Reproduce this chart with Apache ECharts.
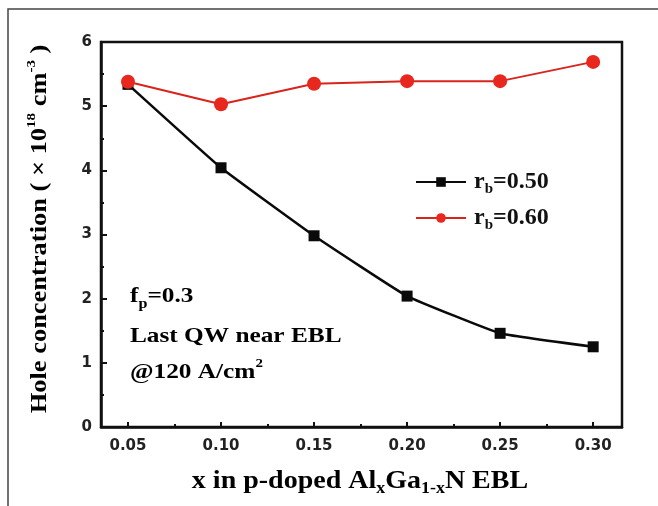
<!DOCTYPE html>
<html>
<head>
<meta charset="utf-8">
<script src="https://cdn.jsdelivr.net/npm/echarts@6/dist/echarts.min.js"></script>
<style>
  html, body { margin: 0; padding: 0; background: #fff; }
  #chart { width: 658px; height: 506px; }
</style>
</head>
<body>
<div id="chart"></div>
<script>
// values
var xValues = [0.05, 0.10, 0.15, 0.20, 0.25, 0.30];
var holeRb050 = [5.34, 4.04, 2.98, 2.04, 1.46, 1.25];
var holeRb060 = [5.38, 5.03, 5.35, 5.39, 5.39, 5.69];
var seriesNames = ['rb=0.50', 'rb=0.60'];
var xMinorTicks = [0.075, 0.125, 0.175, 0.225, 0.275];
var yMinorTicks = [0.5, 1.5, 2.5, 3.5, 4.5, 5.5];

var serif = '"Liberation Serif", "Times New Roman", serif';
var sans = '"DejaVu Sans", Verdana, sans-serif';

function pairs(ys) {
    return xValues.map(function (x, i) { return [x, ys[i]]; });
}

// rich text styles for the sub / superscripts
function richSet(size) {
    return {
        m: { fontFamily: serif, fontWeight: 'bold', fontSize: size, lineHeight: 30, color: '#111' },
        sub: { fontFamily: serif, fontWeight: 'bold', fontSize: Math.round(size * 0.62), verticalAlign: 'bottom', lineHeight: 30, color: '#111' },
        sup: { fontFamily: serif, fontWeight: 'bold', fontSize: Math.round(size * 0.58), verticalAlign: 'top', lineHeight: 30, color: '#111' }
    };
}

var chart = echarts.init(document.getElementById('chart'));

var option = {
    backgroundColor: '#ffffff',
    animation: false,
    grid: {
        left: 101, top: 42, right: 36, bottom: 79,
        show: true,
        borderColor: '#111',
        borderWidth: 2.5,
        backgroundColor: 'transparent'
    },
    xAxis: [{
        type: 'value',
        min: 0.0355,
        max: 0.3155,
        axisLine: { lineStyle: { color: '#111', width: 2.5 } },
        axisTick: { inside: true, length: 5, lineStyle: { color: '#111', width: 2 }, customValues: xValues },
        axisLabel: {
            customValues: xValues,
            formatter: function (v) { return v.toFixed(2); },
            fontFamily: sans, fontWeight: 'bold', fontSize: 15, color: '#222', margin: 12
        },
        splitLine: { show: false }
    }, {
        type: 'value',
        position: 'bottom',
        min: 0.0355,
        max: 0.3155,
        axisLine: { show: false },
        axisTick: { inside: true, length: 3, lineStyle: { color: '#111', width: 2 }, customValues: xMinorTicks },
        axisLabel: { show: false },
        splitLine: { show: false }
    }],
    yAxis: [{
        type: 'value',
        min: 0,
        max: 6,
        interval: 1,
        axisLine: { show: true, lineStyle: { color: '#111', width: 2.5 } },
        axisTick: { show: true, inside: true, length: 6, lineStyle: { color: '#111', width: 2 } },
        axisLabel: { fontFamily: sans, fontWeight: 'bold', fontSize: 15, color: '#222', margin: 9 },
        splitLine: { show: false }
    }, {
        type: 'value',
        position: 'left',
        min: 0,
        max: 6,
        axisLine: { show: false },
        axisTick: { show: true, inside: true, length: 3, lineStyle: { color: '#111', width: 2 }, customValues: yMinorTicks },
        axisLabel: { show: false },
        splitLine: { show: false }
    }],
    legend: {
        orient: 'vertical',
        left: 410,
        top: 165,
        itemWidth: 50,
        itemHeight: 12,
        itemGap: 9,
        data: seriesNames,
        formatter: function (name) {
            return '{m|r}{sub|b}{m|' + name.slice(2) + '}';
        },
        textStyle: { padding: [0, 0, 0, 3], rich: richSet(24) }
    },
    series: [{
        name: seriesNames[0],
        type: 'line',
        data: pairs(holeRb050),
        smooth: 0.1,
        symbol: 'rect',
        symbolSize: 11,
        itemStyle: { color: '#0a0a0a' },
        lineStyle: { color: '#0a0a0a', width: 2.5 }
    }, {
        name: seriesNames[1],
        type: 'line',
        data: pairs(holeRb060),
        symbol: 'circle',
        symbolSize: 14,
        itemStyle: { color: '#e8281e' },
        lineStyle: { color: '#d8241b', width: 2 }
    }],
    graphic: [
        {
            type: 'rect',
            shape: { x: 8, y: 9, width: 700, height: 600 },
            style: { fill: 'none', stroke: '#444', lineWidth: 1.5 },
            silent: true
        },
        {
            type: 'text', x: 130, y: 296, scaleX: 1.15,
            style: {
                text: '{m|f}{sub|p}{m|=0.3}', rich: richSet(22),
                textAlign: 'left', align: 'left', textVerticalAlign: 'middle', verticalAlign: 'middle'
            }
        },
        {
            type: 'text', x: 130, y: 336, scaleX: 1.15,
            style: {
                text: '{m|Last QW near EBL}', rich: richSet(22),
                textAlign: 'left', align: 'left', textVerticalAlign: 'middle', verticalAlign: 'middle'
            }
        },
        {
            type: 'text', x: 130, y: 372, scaleX: 1.15,
            style: {
                text: '{m|@120 A/cm}{sup|2}', rich: richSet(22),
                textAlign: 'left', align: 'left', textVerticalAlign: 'middle', verticalAlign: 'middle'
            }
        },
        {
            // x axis title
            type: 'text', x: 360, y: 482, scaleX: 1.12,
            style: {
                text: '{m|x in p-doped Al}{sub|x}{m|Ga}{sub|1-x}{m|N EBL}', rich: richSet(25),
                textAlign: 'center', align: 'center', textVerticalAlign: 'middle', verticalAlign: 'middle'
            }
        },
        {
            // y axis title
            type: 'text', x: 40, y: 229, rotation: Math.PI / 2, scaleX: 1.15,
            style: {
                text: '{m|Hole concentration ( \u00d7 10}{sup|18}{m| cm}{sup|-3}{m| )}', rich: richSet(23),
                textAlign: 'center', align: 'center', textVerticalAlign: 'middle', verticalAlign: 'middle'
            }
        }
    ]
};

chart.setOption(option);
</script>
</body>
</html>
